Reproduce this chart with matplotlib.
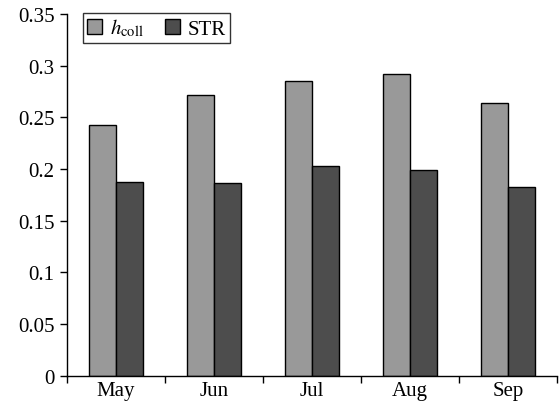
import numpy as np
import matplotlib
matplotlib.use("Agg")
import matplotlib.pyplot as plt

plt.rcParams['font.family'] = ['Liberation Serif', 'DejaVu Serif']
plt.rcParams['mathtext.fontset'] = 'stix'

months = ['May', 'Jun', 'Jul', 'Aug', 'Sep']
h_coll = [0.243, 0.272, 0.285, 0.292, 0.264]
str_vals = [0.187, 0.186, 0.203, 0.199, 0.183]

fig = plt.figure(figsize=(5.6, 4.06), dpi=100)
ax = fig.add_axes([0.1196, 0.0722, 0.875, 0.891])

x = np.arange(len(months))
w = 0.28
ax.bar(x - w / 2, h_coll, w, color='#999999', edgecolor='black', linewidth=1,
       label=r'$h_{\mathrm{coll}}$')
ax.bar(x + w / 2, str_vals, w, color='#4d4d4d', edgecolor='black', linewidth=1,
       label='STR')

ax.set_xlim(-0.5, len(months) - 0.5)
ax.set_ylim(0, 0.35)
ax.set_yticks(np.arange(0, 0.351, 0.05))
ax.set_yticklabels(['0', '0.05', '0.1', '0.15', '0.2', '0.25', '0.3', '0.35'])

# boundaries get the tick marks, centres get the labels
ax.set_xticks(np.arange(-0.5, len(months), 1.0))
ax.set_xticklabels([])
ax.set_xticks(x, minor=True)
ax.set_xticklabels(months, minor=True)
ax.tick_params(axis='x', which='minor', length=0, labelsize=15, pad=4)
ax.tick_params(axis='x', which='major', length=5, width=1, direction='out')
ax.tick_params(axis='y', length=5, width=1, direction='out', labelsize=15, pad=4)

for s in ['top', 'right']:
    ax.spines[s].set_visible(False)
ax.spines['left'].set_linewidth(1)
ax.spines['bottom'].set_linewidth(1)

leg = ax.legend(loc='upper left', bbox_to_anchor=(0.033, 1.003), ncol=2,
                fontsize=15, frameon=True, fancybox=False, borderaxespad=0,
                handlelength=0.7, handleheight=0.7, handletextpad=0.4,
                columnspacing=1.0, borderpad=0.2)
leg.get_frame().set_edgecolor('black')
leg.get_frame().set_linewidth(1)

fig.savefig('out.png', dpi=100)
